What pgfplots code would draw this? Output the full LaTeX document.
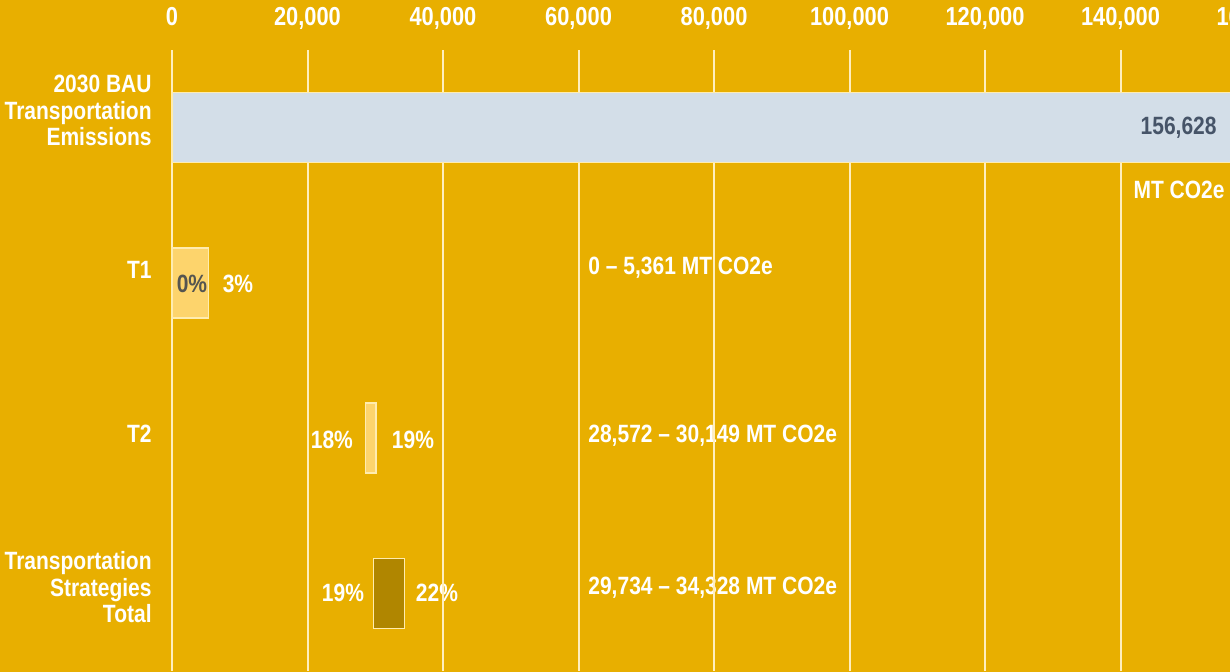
\documentclass[border=0pt]{standalone}
\usepackage{pgfplots}
\pgfplotsset{compat=1.18}
\usepackage{fontspec}
\setmainfont{Liberation Sans}[FakeStretch=0.84]
\definecolor{bgc}{RGB}{232,175,0}
\definecolor{gridc}{RGB}{255,238,190}
\definecolor{baubar}{RGB}{211,222,232}
\definecolor{lightbar}{RGB}{253,212,108}
\definecolor{darkbar}{RGB}{176,134,0}
\definecolor{edgec}{RGB}{255,236,175}
\definecolor{valc}{RGB}{70,84,104}
\definecolor{pctc}{RGB}{85,85,80}
\newcommand{\lab}{\fontsize{12.5}{13.3}\selectfont\bfseries}
\newcommand{\tlab}{\fontsize{13}{14}\selectfont\bfseries}
\begin{document}
\begin{tikzpicture}
\begin{axis}[
  set layers,
  at={(86pt,0pt)}, anchor=south west,
  scale only axis, width=575.875pt, height=310.5pt,
  xmin=0, xmax=170000, ymin=-0.5, ymax=3.5, y dir=reverse,
  clip=false,
  axis line style={draw=none},
  major tick length=0pt,
  xmajorgrids, grid style={color=gridc, line width=1pt},
  xtick={0,20000,40000,60000,80000,100000,120000,140000,160000},
  scaled x ticks=false,
  xticklabel pos=upper,
  xticklabel style={anchor=south, inner sep=0pt, text depth=0pt, yshift=12pt, text=white, font=\tlab},
  /pgf/number format/.cd, fixed, 1000 sep={,}, assume math mode=true,
  /pgfplots/.cd,
  ytick={-0.11,0.916,1.97,2.96},
  yticklabels={{2030 BAU\\Transportation\\Emissions},T1,T2,{Transportation\\Strategies\\Total}},
  yticklabel style={align=right, inner sep=0pt, xshift=-10pt, text=white, font=\lab},
]
\begin{pgfonlayer}{axis background}
  \fill[bgc] ([xshift=-95pt,yshift=35pt]rel axis cs:0,1) rectangle ([xshift=10pt,yshift=-10pt]rel axis cs:1,0);
  \node[anchor=west, text=white, font=\lab, inner sep=0pt] at (axis cs:61400,0.904) {0 – 5,361 MT CO2e};
  \node[anchor=west, text=white, font=\lab, inner sep=0pt] at (axis cs:61400,1.986) {28,572 – 30,149 MT CO2e};
  \node[anchor=west, text=white, font=\lab, inner sep=0pt] at (axis cs:61400,2.965) {29,734 – 34,328 MT CO2e};
  \node[text=white, font=\lab, inner sep=0pt] at (axis cs:9740,1.007) {3\%};
  \node[text=white, font=\lab, inner sep=0pt] at (axis cs:23600,2.012) {18\%};
  \node[text=white, font=\lab, inner sep=0pt] at (axis cs:35570,2.012) {19\%};
  \node[text=white, font=\lab, inner sep=0pt] at (axis cs:25240,2.998) {19\%};
  \node[text=white, font=\lab, inner sep=0pt] at (axis cs:39110,2.998) {22\%};
\end{pgfonlayer}
% bars (start, end) drawn as closed rectangles
\addplot[fill=baubar, draw=edgec, line width=0.8pt] coordinates {(0,-0.225) (156628,-0.225) (156628,0.225) (0,0.225)} -- cycle;
\addplot[fill=lightbar, draw=edgec, line width=0.8pt] coordinates {(0,0.775) (5361,0.775) (5361,1.225) (0,1.225)} -- cycle;
\addplot[fill=lightbar, draw=edgec, line width=0.8pt] coordinates {(28572,1.775) (30149,1.775) (30149,2.225) (28572,2.225)} -- cycle;
\addplot[fill=darkbar, draw=edgec, line width=0.8pt] coordinates {(29734,2.775) (34328,2.775) (34328,3.225) (29734,3.225)} -- cycle;
\node[text=pctc, font=\lab, inner sep=0pt] at (axis cs:2950,1.007) {0\%};
\node[anchor=east, text=valc, font=\lab, inner sep=0pt] at (axis cs:154240,0.002) {156,628};
\node[anchor=east, text=white, font=\lab, inner sep=0pt] at (axis cs:155420,0.402) {MT CO2e};
\end{axis}
\pgfresetboundingbox
\useasboundingbox (0,0) rectangle (615pt,335.5pt);
\end{tikzpicture}
\end{document}
